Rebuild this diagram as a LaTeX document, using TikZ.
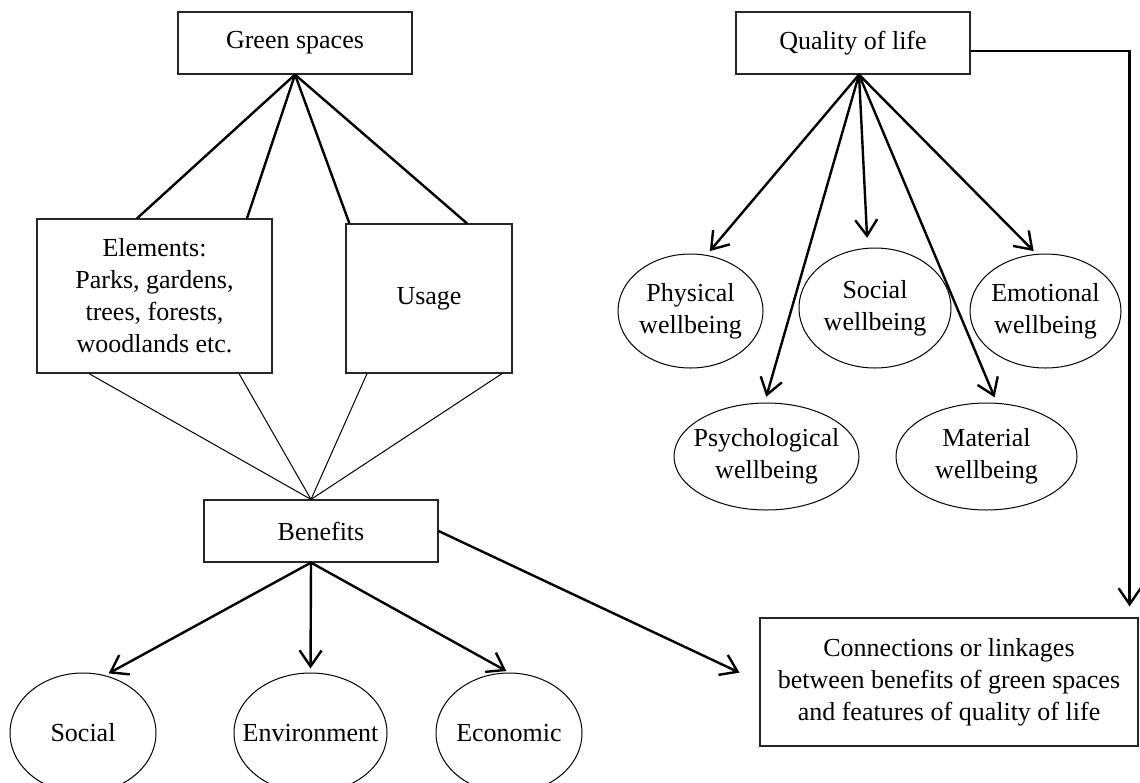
\documentclass[tikz,border=0pt]{standalone}
\usepackage{fontspec}
\setmainfont{Liberation Serif}
\usepackage{tikz}
\usetikzlibrary{positioning, calc, shapes.geometric, arrows.meta}

\begin{document}
\begin{tikzpicture}[
    x=0.5pt, y=-0.5pt,
    every node/.style={font=\fontsize{13}{16}\selectfont},
    framebox/.style={rectangle, draw=black!85, line width=0.6pt, align=center,
                     inner sep=0pt},
    bubble/.style={ellipse, draw, line width=0.5pt, align=center,
                   inner xsep=-12pt, inner ysep=-6pt},
    link/.style={line width=1.2pt},
    thinlink/.style={line width=0.5pt},
    arrowlink/.style={line width=1.2pt, -{Straight Barb[length=8pt, width=11pt]}},
  ]
    \useasboundingbox (0,0) rectangle (1140,782);

    % left part: green spaces
    \node[framebox, minimum width=117pt, minimum height=31pt] (green) at (295,43) {Green spaces};
    \node[framebox, minimum width=117.5pt, minimum height=77pt] (elem) at (154.5,296) {
      Elements:\\
      Parks, gardens,\\
      trees, forests,\\
      woodlands etc.
    };
    \node[framebox, minimum width=83pt, minimum height=74.5pt] (usage) at (429,298.5) {Usage};
    \node[framebox, minimum width=117pt, minimum height=31pt] (benefits) at (321,531) {Benefits};

    \node[bubble, minimum width=73pt, minimum height=60pt] (soc) at (83,733) {Social};
    \node[bubble, minimum width=76.5pt, minimum height=60pt] (env) at (310.5,733) {Environment};
    \node[bubble, minimum width=73pt, minimum height=60pt] (eco) at (509,733) {Economic};

    % right part: quality of life
    \node[framebox, minimum width=117pt, minimum height=31pt] (qol) at (853,43) {Quality of life};

    \node[bubble, minimum width=72.5pt, minimum height=57pt] (phys) at (690.5,311) {Physical\\wellbeing};
    \node[bubble, minimum width=76pt, minimum height=60pt] (socw) at (875,308) {Social\\wellbeing};
    \node[bubble, minimum width=75.5pt, minimum height=57pt] (emo) at (1045.5,311) {Emotional\\wellbeing};
    \node[bubble, minimum width=92.5pt, minimum height=53.5pt] (psy) at (766.5,456.5) {Psychological\\wellbeing};
    \node[bubble, minimum width=90.5pt, minimum height=53.5pt] (mat) at (986.5,456.5) {Material\\wellbeing};

    \node[framebox, minimum width=189pt, minimum height=64pt] (conn) at (949,682) {
      Connections or linkages\\
      between benefits of green spaces\\
      and features of quality of life
    };

    % green spaces -> elements / usage
    \draw[link] (green.south) -- ([xshift=-8.75pt]elem.north);
    \draw[link] (green.south) -- ([xshift=46.25pt]elem.north);
    \draw[link] (green.south) -- ([xshift=2pt]usage.north west);
    \draw[link] (green.south) -- ([xshift=19pt]usage.north);

    % elements / usage -> benefits
    \draw[thinlink] ([xshift=-32.75pt]elem.south) -- ([xshift=-5pt]benefits.north);
    \draw[thinlink] ([xshift=42.25pt]elem.south) -- ([xshift=-5pt]benefits.north);
    \draw[thinlink] ([xshift=-31pt]usage.south) -- ([xshift=-5pt]benefits.north);
    \draw[thinlink] ([xshift=36.5pt]usage.south) -- ([xshift=-5pt]benefits.north);

    % benefits -> kinds
    \draw[arrowlink, shorten >=2pt] ([xshift=-5pt]benefits.south) -- (soc.69);
    \draw[arrowlink, shorten >=2pt] ([xshift=-5pt]benefits.south) -- (env.north);
    \draw[arrowlink, shorten >=1.5pt] ([xshift=-5pt]benefits.south) -- (eco.north);
    \draw[arrowlink, shorten >=11pt] (benefits.east) -- (conn.west);

    % quality of life -> wellbeing
    \draw[arrowlink, shorten >=2.5pt] ([xshift=3pt]qol.south) -- (phys.74);
    \draw[arrowlink, shorten >=5pt] ([xshift=3pt]qol.south) -- (socw.97);
    \draw[arrowlink, shorten >=2pt] ([xshift=3pt]qol.south) -- (emo.99);
    \draw[arrowlink, shorten >=3pt] ([xshift=3pt]qol.south) -- (psy.92);
    \draw[arrowlink, shorten >=3pt] ([xshift=3pt]qol.south) -- (mat.79);
    \draw[arrowlink] ([yshift=-4pt]qol.east) -| ([xshift=-4.5pt, yshift=5.5pt]conn.north east);
  \end{tikzpicture}
\end{document}
